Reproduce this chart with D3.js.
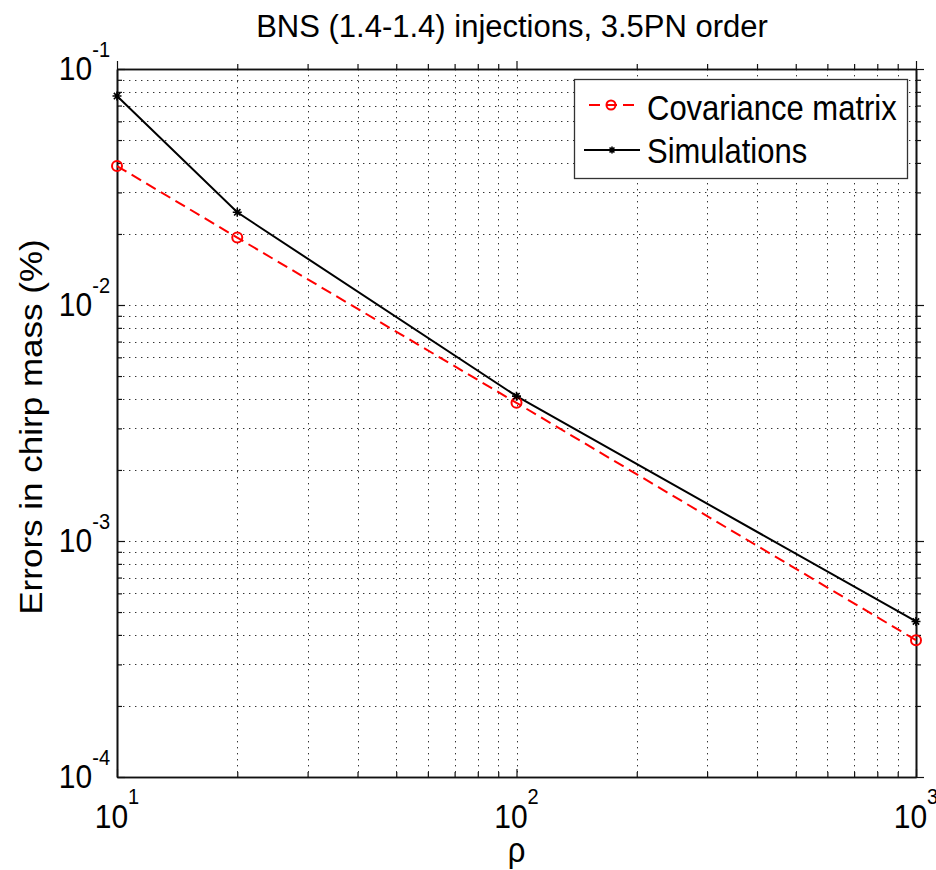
<!DOCTYPE html>
<html>
<head>
<meta charset="utf-8">
<script src="https://cdn.jsdelivr.net/npm/d3@7"></script>
<style>
  html, body { margin: 0; padding: 0; background: #fff; }
  svg { display: block; }
  text { font-family: "Liberation Sans", Arial, Helvetica, sans-serif; fill: #000; }
</style>
</head>
<body>
<svg id="chart" width="936" height="870"></svg>
<script>
// SNR values (rho) at which the injections were made
const rho = [10, 20, 100, 1000];
// Chirp-mass errors (%) predicted by the Fisher covariance matrix
const covariance = [0.0388, 0.0193, 0.00385, 0.000380];
// Chirp-mass errors (%) measured from the simulations
const simulations = [0.0768, 0.0247, 0.00411, 0.000456];

// Decade ticks (exponents of ten) on each axis
const xExponents = [1, 2, 3];
const yExponents = [-4, -3, -2, -1];

const titleText = "BNS (1.4-1.4) injections, 3.5PN order";
const xLabelText = "\u03C1";
const yLabelText = "Errors in chirp mass (%)";
const seriesNames = ["Covariance matrix", "Simulations"];

const svg = d3.select("#chart");
const plot = { left: 117, right: 916, top: 69, bottom: 777 };
const stretch = 1.13;

const x = d3.scaleLog().domain([10, 1000]).range([plot.left, plot.right]);
const y = d3.scaleLog().domain([1e-4, 1e-1]).range([plot.bottom, plot.top]);

const xMajor = xExponents.map(e => Math.pow(10, e));
const yMajor = yExponents.map(e => Math.pow(10, e));
function minorsOf(majors) {
  const out = [];
  for (let i = 0; i < majors.length - 1; i++)
    for (let k = 2; k <= 9; k++) out.push(+(majors[i] * k).toPrecision(6));
  return out;
}
const xMinor = minorsOf(xMajor);
const yMinor = minorsOf(yMajor);

// dotted grid, major and minor
const grid = svg.append("g")
  .attr("stroke", "#333").attr("stroke-width", 1).attr("stroke-dasharray", "1.4,4.6").attr("fill", "none");
grid.selectAll("line.gx").data(xMajor.concat(xMinor).filter(v => v > 10 && v < 1000))
  .join("line").attr("class", "gx")
  .attr("x1", d => Math.round(x(d)) + 0.5).attr("x2", d => Math.round(x(d)) + 0.5)
  .attr("y1", plot.top).attr("y2", plot.bottom);
grid.selectAll("line.gy").data(yMajor.concat(yMinor).filter(v => v > 1e-4 && v < 1e-1))
  .join("line").attr("class", "gy")
  .attr("y1", d => Math.round(y(d)) + 0.5).attr("y2", d => Math.round(y(d)) + 0.5)
  .attr("x1", plot.left).attr("x2", plot.right);

// inward ticks on all four sides of the box
function addAxis(axisFn, scale, values, size, transform) {
  const g = svg.append("g").attr("transform", transform)
    .call(axisFn(scale).tickValues(values).tickSizeInner(-size).tickSizeOuter(0).tickFormat(""));
  g.selectAll("line").attr("stroke", "#111").attr("stroke-width", 1.2);
  g.select(".domain").attr("stroke", "#111").attr("stroke-width", 1.6);
  return g;
}
[[xMajor, 8], [xMinor, 5]].forEach(([vals, s]) => {
  addAxis(d3.axisBottom, x, vals, s, `translate(0,${plot.bottom})`);
  addAxis(d3.axisTop, x, vals, -s, `translate(0,${plot.top})`);
});
[[yMajor, 8], [yMinor, 5]].forEach(([vals, s]) => {
  addAxis(d3.axisLeft, y, vals, s, `translate(${plot.left},0)`);
  addAxis(d3.axisRight, y, vals, -s, `translate(${plot.right},0)`);
});
// fix right/top tick direction (inward)
svg.selectAll("g").each(function () {});

// tick labels as 10 with superscript exponent
xExponents.forEach(e => {
  const t = svg.append("text")
    .attr("transform", `translate(${x(Math.pow(10, e))},${plot.bottom + 51}) scale(1,${stretch})`)
    .attr("text-anchor", "middle").attr("font-size", 30);
  t.append("tspan").text("10");
  t.append("tspan").attr("dy", -21).attr("font-size", 20).text(e);
});
yExponents.forEach(e => {
  const t = svg.append("text")
    .attr("transform", `translate(110,${y(Math.pow(10, e)) + 11}) scale(1,${stretch})`)
    .attr("text-anchor", "end").attr("font-size", 30);
  t.append("tspan").text("10");
  t.append("tspan").attr("dy", -20).attr("font-size", 20).text(e);
});

// title and axis labels
svg.append("text").attr("x", 512).attr("y", 37).attr("text-anchor", "middle")
  .attr("font-size", 31).text(titleText);
svg.append("text")
  .attr("transform", `translate(${(plot.left + plot.right) / 2},862) scale(1,${stretch})`)
  .attr("text-anchor", "middle").attr("font-size", 31).text(xLabelText);
svg.append("text")
  .attr("transform", `translate(42,427) scale(1,${stretch}) rotate(-90)`)
  .attr("text-anchor", "middle").attr("font-size", 31).text(yLabelText);

// series lines
const line = d3.line().x(d => x(d[0])).y(d => y(d[1]));
const covPts = rho.map((r, i) => [r, covariance[i]]);
const simPts = rho.map((r, i) => [r, simulations[i]]);

svg.append("path").datum(covPts).attr("d", line)
  .attr("fill", "none").attr("stroke", "#ff0000").attr("stroke-width", 2)
  .attr("stroke-dasharray", "11,6");
svg.append("path").datum(simPts).attr("d", line)
  .attr("fill", "none").attr("stroke", "#000").attr("stroke-width", 2);

function asterisk(s) {
  const d = 0.7 * s;
  return `M${-s},0L${s},0M0,${-s}L0,${s}M${-d},${-d}L${d},${d}M${-d},${d}L${d},${-d}`;
}
svg.append("g").selectAll("circle").data(covPts).join("circle")
  .attr("cx", d => x(d[0])).attr("cy", d => y(d[1])).attr("r", 5)
  .attr("fill", "none").attr("stroke", "#ff0000").attr("stroke-width", 2);
svg.append("g").selectAll("path").data(simPts).join("path")
  .attr("transform", d => `translate(${x(d[0])},${y(d[1])})`)
  .attr("d", asterisk(4.5)).attr("fill", "none").attr("stroke", "#000").attr("stroke-width", 1.6);

// legend
const lg = svg.append("g");
lg.append("rect").attr("x", 574.5).attr("y", 79.5).attr("width", 333).attr("height", 99)
  .attr("fill", "#fff").attr("stroke", "#333").attr("stroke-width", 1.3);
lg.append("line").attr("x1", 589).attr("x2", 638).attr("y1", 105).attr("y2", 105)
  .attr("stroke", "#ff0000").attr("stroke-width", 2).attr("stroke-dasharray", "11,6");
lg.append("circle").attr("cx", 611).attr("cy", 105).attr("r", 4.5)
  .attr("fill", "none").attr("stroke", "#ff0000").attr("stroke-width", 2);
lg.append("line").attr("x1", 584).attr("x2", 640).attr("y1", 150).attr("y2", 150)
  .attr("stroke", "#000").attr("stroke-width", 2);
lg.append("path").attr("transform", "translate(612,150)").attr("d", asterisk(3.5))
  .attr("fill", "none").attr("stroke", "#000").attr("stroke-width", 1.6);
seriesNames.forEach((name, i) => {
  lg.append("text").attr("transform", `translate(647,${120 + i * 43}) scale(1,${stretch})`)
    .attr("font-size", 31).text(name);
});
</script>
</body>
</html>
